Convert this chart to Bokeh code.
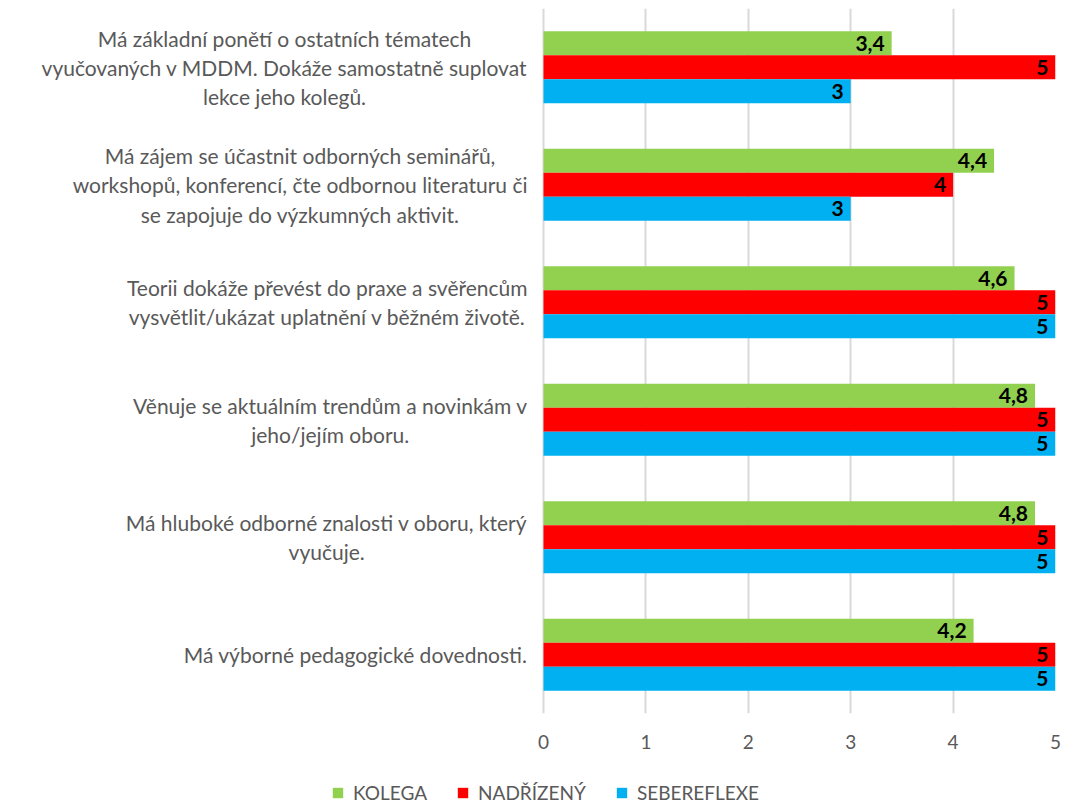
from bokeh.plotting import figure
from bokeh.layouts import column
from bokeh.models import ColumnDataSource, FactorRange, Label, Legend, LegendItem, FixedTicker, Range1d
from bokeh.transform import dodge
from bokeh.core.properties import value
from bokeh.embed import file_html
from bokeh.resources import INLINE

categories = [
    "Má základní ponětí o ostatních tématech\nvyučovaných v MDDM. Dokáže samostatně suplovat\nlekce jeho kolegů.",
    "Má zájem se účastnit odborných seminářů,\nworkshopů, konferencí, čte odbornou literaturu či\nse zapojuje do výzkumných aktivit.",
    "Teorii dokáže převést do praxe a svěřencům\nvysvětlit/ukázat uplatnění v běžném životě.",
    "Věnuje se aktuálním trendům a novinkám v\njeho/jejím oboru.",
    "Má hluboké odborné znalosti v oboru, který\nvyučuje.",
    "Má výborné pedagogické dovednosti.",
]
kolega = [3.4, 4.4, 4.6, 4.8, 4.8, 4.2]
nadrizeny = [5, 4, 5, 5, 5, 5]
sebereflexe = [3, 3, 5, 5, 5, 5]
series_names = ["KOLEGA", "NADŘÍZENÝ", "SEBEREFLEXE"]
x_ticks = [0, 1, 2, 3, 4, 5]

colors = ["#92D050", "#FF0000", "#00B0F0"]
FONT = "Lato"

W = 1066
H_MAIN, H_LEG = 770, 40
FRAME_RIGHT_PAD = 11
AXIS0_PX = 543  # pixel position of value 0

def fmt(v):
    return ("%g" % v).replace(".", ",")

src = ColumnDataSource(dict(
    cat=categories,
    k=kolega, n=nadrizeny, s=sebereflexe,
    kl=[fmt(v) for v in kolega],
    nl=[fmt(v) for v in nadrizeny],
    sl=[fmt(v) for v in sebereflexe],
))

xmax = max(x_ticks)
frame_w = W - FRAME_RIGHT_PAD
px_per_unit = (frame_w - AXIS0_PX) / xmax
xmin = -AXIS0_PX / px_per_unit

factors = list(reversed(categories))
p = figure(width=W, height=H_MAIN, output_backend="svg", toolbar_location=None,
           y_range=FactorRange(factors=factors, range_padding=0),
           x_range=Range1d(xmin, xmax),
           min_border_left=0, min_border_right=FRAME_RIGHT_PAD, min_border_top=8, min_border_bottom=57)
p.outline_line_color = None
p.background_fill_color = "white"

bh = 0.204
offs = [bh, 0, -bh]
cols = ["k", "n", "s"]
lbls = ["kl", "nl", "sl"]
for c, lc, off, col in zip(cols, lbls, offs, colors):
    p.hbar(y=dodge("cat", off, range=p.y_range), left=0, right=c, height=bh,
           fill_color=col, line_color=None, source=src)
    p.text(x=c, y=dodge("cat", off, range=p.y_range), text=lc, source=src,
           text_align="right", text_baseline="middle", x_offset=-7,
           text_font=value(FONT), text_font_style="bold", text_font_size="21px",
           text_color="black")

# category labels
for cat in categories:
    idx = factors.index(cat)
    p.add_layout(Label(x=0, y=idx + 0.5, x_offset=-16, text=cat,
                       anchor="center_right", text_align="center", text_baseline="middle",
                       text_font=FONT, text_font_size="21px", text_color="#595959",
                       text_line_height=1.17))

p.yaxis.visible = False
p.ygrid.grid_line_color = None
p.xgrid.grid_line_color = "#D9D9D9"
p.xgrid.grid_line_width = 2
p.xaxis.ticker = FixedTicker(ticks=x_ticks)
p.xaxis.axis_line_color = None
p.xaxis.major_tick_line_color = None
p.xaxis.major_tick_out = 0
p.xaxis.major_tick_in = 0
p.xaxis.minor_tick_line_color = None
p.xaxis.major_label_text_font = FONT
p.xaxis.major_label_text_font_size = "19px"
p.xaxis.major_label_text_color = "#595959"
p.xaxis.major_label_standoff = 21

# legend figure (legend swatches only; the swatch glyphs lie outside its view)
lf = figure(width=W, height=H_LEG, output_backend="svg", toolbar_location=None,
            x_range=Range1d(0, 1), y_range=Range1d(0, 1),
            min_border_left=0, min_border_right=0, min_border_top=0, min_border_bottom=0)
lf.axis.visible = False
lf.grid.grid_line_color = None
lf.outline_line_color = None
items = []
for name, col in zip(series_names, colors):
    r = lf.rect(x=[-5], y=[-5], width=1, height=1, fill_color=col, line_color=None)
    items.append(LegendItem(label=name, renderers=[r]))
legend = Legend(items=items, orientation="horizontal", location=(331, 6),
                glyph_width=13, glyph_height=13, label_height=14, label_standoff=9, spacing=29,
                padding=0, margin=0, border_line_color=None, background_fill_alpha=0,
                label_text_font=FONT, label_text_font_size="19px", label_text_color="#595959")
lf.add_layout(legend, "center")

layout = column(p, lf, spacing=0)
open("out.html", "w").write(file_html(layout, INLINE))
